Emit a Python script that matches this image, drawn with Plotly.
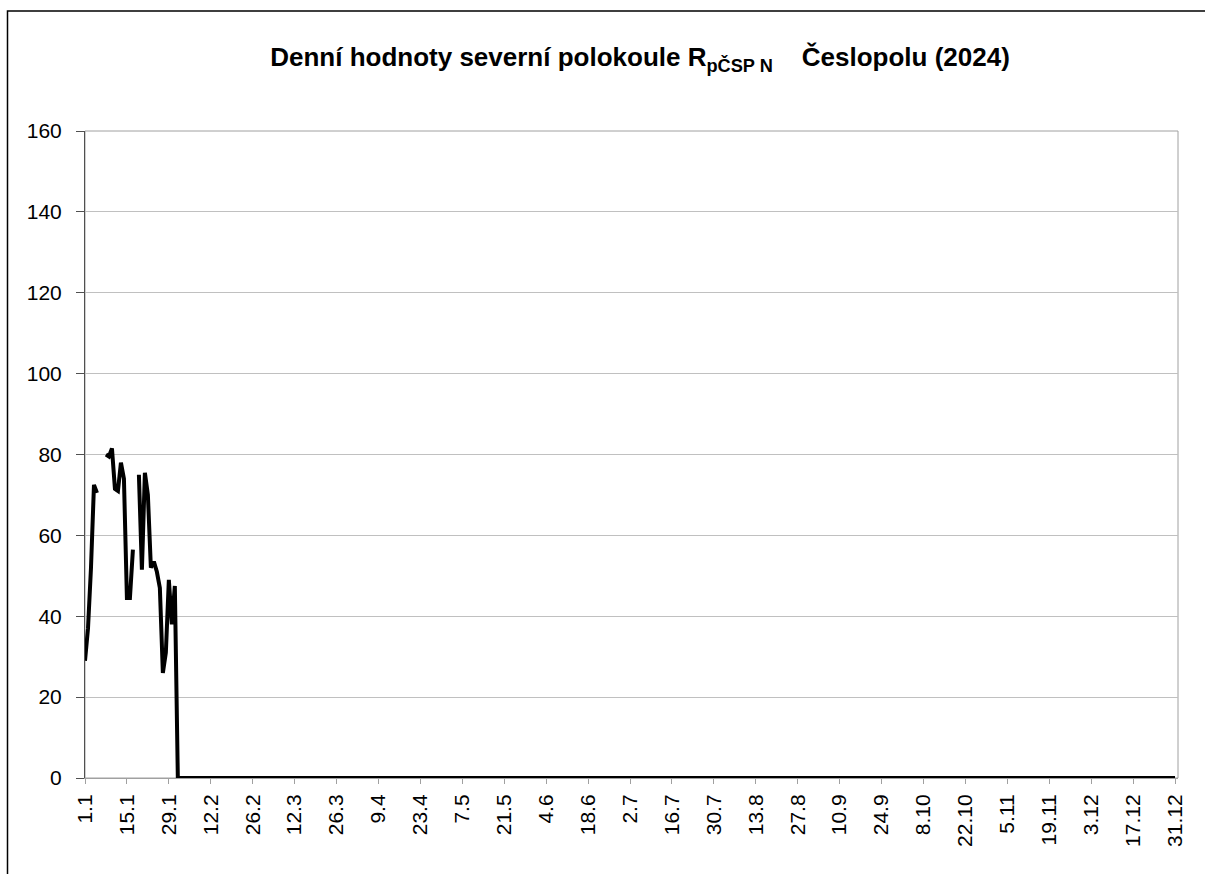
import plotly.graph_objects as go

# denní hodnoty (leden), dny bez pozorování = None
days_jan = list(range(1, 33))
values_jan = [29, 37, 52, 72.5, 70.5, None, None, 80, 79.5, 81.5,
              71.5, 71, 78, 74, 44.5, 44.5, 56.5, None, 75, 51.5,
              75.5, 70, 52, 53.5, 51, 47, 26, 31, 49, 38,
              47.5, 0]
# zbytek roku na nule
days_rest = list(range(33, 366))
values_rest = [0] * len(days_rest)

days = days_jan + days_rest
values = values_jan + values_rest

tick_days = list(range(1, 366, 14))
tick_labels = ["1.1", "15.1", "29.1", "12.2", "26.2", "12.3", "26.3", "9.4", "23.4",
               "7.5", "21.5", "4.6", "18.6", "2.7", "16.7", "30.7", "13.8", "27.8",
               "10.9", "24.9", "8.10", "22.10", "5.11", "19.11", "3.12", "17.12", "31.12"]

W, H = 1205, 874
L, R, T, B = 85, 1178, 131, 778

fig = go.Figure()

fig.add_trace(go.Scatter(
    x=days,
    y=values,
    mode='lines',
    line=dict(color='black', width=4),
    connectgaps=False,
    hoverinfo='x+y',
))

# rám grafu a rám plochy
px = lambda v: (v - L) / (R - L)
py = lambda v: (B - v) / (B - T)
fig.add_shape(type='rect', xref='paper', yref='paper',
              x0=px(7.5), x1=px(1300), y0=py(950), y1=py(11),
              line=dict(color='black', width=1.5))
fig.add_shape(type='rect', xref='paper', yref='paper',
              x0=0, x1=1, y0=0, y1=1, layer='below',
              line=dict(color='#a0a0a0', width=1))

fig.update_layout(
    width=W, height=H,
    margin=dict(l=L, r=W - R, t=T, b=H - B),
    paper_bgcolor='white',
    plot_bgcolor='white',
    showlegend=False,
    font=dict(family='Liberation Sans, Arial, sans-serif', color='black'),
    title=dict(
        text="<b>Denní hodnoty severní polokoule R<sub>pČSP N</sub>    Česlopolu (2024)</b>",
        x=640 / W, xanchor='center', xref='container',
        y=1 - 57 / H, yanchor='middle', yref='container',
        font=dict(size=26, color='black'),
    ),
    xaxis=dict(
        range=[1, 366],
        tickmode='array', tickvals=tick_days, ticktext=tick_labels,
        tickangle=-90, ticks='outside', ticklen=5, tickcolor='#a0a0a0',
        tickfont=dict(size=21), ticklabelstandoff=2,
        showgrid=False, zeroline=False,
        showline=True, linecolor='#a0a0a0', linewidth=1,
    ),
    yaxis=dict(
        range=[0, 160], dtick=20,
        ticks='outside', ticklen=8, tickcolor='#505050',
        tickfont=dict(size=21), ticklabelstandoff=10,
        showgrid=True, gridcolor='#c0c0c0', gridwidth=1,
        zeroline=False,
        showline=True, linecolor='#505050', linewidth=1,
    ),
)

fig.write_html("out.html", config={'displayModeBar': False},
               post_script="document.body.style.margin='0';")
